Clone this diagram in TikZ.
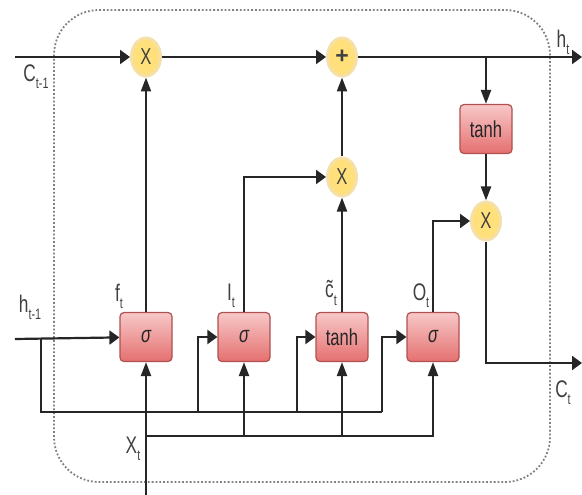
\documentclass[tikz,border=0pt]{standalone}
\usepackage{fontspec}
\setmainfont{Liberation Sans}
\usetikzlibrary{arrows.meta,shapes.geometric}
\definecolor{wire}{HTML}{262626}
\definecolor{gateTop}{HTML}{F8C8C8}
\definecolor{gateBot}{HTML}{E57070}
\definecolor{gateLine}{HTML}{B05050}
\definecolor{opFill}{HTML}{FFE07A}
\definecolor{opLine}{HTML}{F4E0A8}
% narrow letters, as in the drawn labels
\newcommand{\nar}[1]{\scalebox{0.72}[1]{#1}}
\newcommand{\lsub}[1]{\raisebox{-0.3em}{\fontsize{15}{15}\selectfont #1}}
\tikzset{
  wirel/.style={draw=wire, line width=2.2pt},
  arh/.style={wirel, -{Triangle[length=10pt,width=14pt]}},
  arv/.style={wirel, -{Triangle[length=14pt,width=10pt]}},
  gate/.style={rectangle, rounded corners=4pt, minimum width=52pt, minimum height=49pt,
    top color=gateTop, bottom color=gateBot, draw=gateLine, line width=1.2pt,
    font=\fontsize{23}{26}\selectfont, text=black!85},
  op/.style={ellipse, minimum width=29pt, minimum height=38pt, inner sep=0pt,
    fill=opFill, draw=opLine, line width=3pt,
    font=\fontsize{23}{26}\selectfont, text=black!75},
  lbl/.style={font=\fontsize{24}{28}\selectfont, text=black!75, inner sep=0pt},
}
\begin{document}
\begin{tikzpicture}[x=1pt, y=-1pt]
\useasboundingbox (0,0) rectangle (582,495);
% cell boundary
\draw[gray, line width=1.8pt, dotted, rounded corners=45pt] (54,10) rectangle (550,482);

% gates
\node[gate] (fg) at (146,337) {\nar{\itshape σ}};
\node[gate] (ig) at (244,337) {\nar{\itshape σ}};
\node[gate] (gg) at (342,337) {\nar{tanh}};
\node[gate] (og) at (433,337) {\nar{\itshape σ}};
\node[gate] (th) at (486,129) {\nar{tanh}};

% pointwise operations
\node[op] (m1) at (146,57) {\nar{X}};
\node[op] (pl) at (342,57) {\textbf{+}};
\node[op] (m2) at (342,177) {\nar{X}};
\node[op] (m3) at (486,221) {\nar{X}};

% free ends and junctions
\coordinate (cin) at (15,57);
\coordinate (hout) at (582,57);
\coordinate (tap) at (486,57);
\coordinate (hin) at (15,339);
\coordinate (hb) at (41,339);
\coordinate (hbend) at (382,412);
\coordinate (hi) at (198,412);
\coordinate (hg) at (297,412);
\coordinate (xin) at (146,495);
\coordinate (xb) at (146,436);
\coordinate (xi) at (244,436);
\coordinate (xg) at (342,436);
\coordinate (cout) at (582,363);

% cell state path
\draw[arh] (cin) -- (m1);
\draw[arh] (m1) -- (pl);
\draw[arh] (pl) -- (hout);
\draw[arv] (tap) -- (th);
\draw[arv] (th) -- (m3);
\draw[arh] (m3) |- (cout);

% gate outputs
\draw[arv] (fg) -- (m1);
\draw[arv] (gg) -- (m2);
\draw[arv] (m2) -- (pl);
\draw[arh] (ig.north) |- (m2);
\draw[arh] (og.north) |- (m3);

% previous hidden state
\draw[arh] (hin) -- (fg);
\draw[wirel] (hb) |- (hbend);
\draw[arh] (hi) |- (ig.west);
\draw[arh] (hg) |- (gg.west);
\draw[arh] (hbend) |- (og.west);

% input
\draw[arv] (xin) -- (fg);
\draw[arv] (xb) -| (og.south);
\draw[arv] (xi) -- (ig);
\draw[arv] (xg) -- (gg);

% labels
\node[lbl] (lc0) at (36,77) {\nar{C\lsub{t-1}}};
\node[lbl] (lh0) at (30,307) {\nar{h\lsub{t-1}}};
\node[lbl] (lf) at (119,296) {\nar{f\lsub{t}}};
\node[lbl] (li) at (231,296) {\nar{I\lsub{t}}};
\node[lbl] (lg) at (331,293) {\nar{c^^^^0303\lsub{t}}};
\node[lbl] (lo) at (421,296) {\nar{O\lsub{t}}};
\node[lbl] (lht) at (563,42) {\nar{h\lsub{t}}};
\node[lbl] (lct) at (563,393) {\nar{C\lsub{t}}};
\node[lbl] (lx) at (133,449) {\nar{X\lsub{t}}};
\end{tikzpicture}
\end{document}
